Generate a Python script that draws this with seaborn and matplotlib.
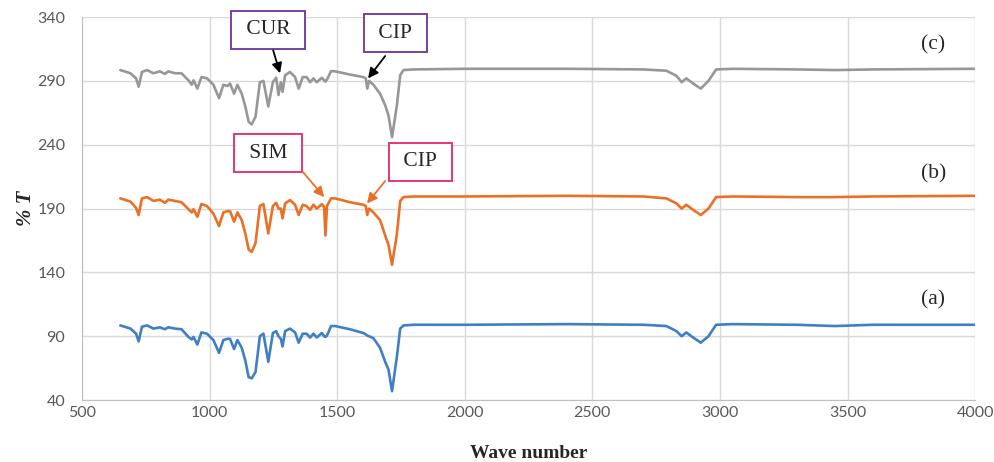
import pandas as pd
import matplotlib
matplotlib.use("Agg")
import matplotlib.pyplot as plt
import seaborn as sns

# wave numbers shared by the three spectra
wave = [650, 690, 712, 722, 735, 755, 780, 805, 825, 838, 865, 890, 917, 930, 937,
        952, 968, 990, 1015, 1037, 1054, 1070, 1080, 1096, 1109, 1126, 1140, 1153,
        1165, 1180, 1197, 1211, 1230, 1248, 1261, 1270, 1279, 1286, 1296, 1315,
        1335, 1349, 1365, 1380, 1394, 1407, 1420, 1440, 1449, 1454, 1460, 1476,
        1492, 1550, 1603, 1612, 1618, 1625, 1642, 1668, 1688, 1701, 1715, 1734,
        1747, 1760, 1800, 2000, 2400, 2700, 2790, 2830, 2850, 2868, 2895, 2925,
        2955, 2985, 3050, 3300, 3450, 3600, 4000]

# (a)
spec_a = [98.5, 96, 92, 86, 97.5, 98.5, 96, 97, 95.5, 97, 96, 95.5, 89.5, 87.5, 89.5,
          83.5, 93, 92, 87, 77, 87, 88, 88, 80, 87, 81, 71, 58,
          57, 62, 90, 92, 70, 92.5, 94, 90, 88, 82, 94, 96,
          93, 85, 92, 92, 89, 92, 89, 92.5, 90, 89.5, 90.5, 98,
          98, 95.5, 92.5, 91.5, 90.5, 90, 88.5, 81, 70, 64, 47, 74,
          96, 98.5, 99, 99, 99.5, 99, 98, 94, 90, 93, 89, 85,
          90, 99, 99.5, 99, 98, 99, 99]

# (b)
spec_b = [198, 195.5, 190.5, 185, 198, 199, 196, 197, 194.5, 197, 196, 195, 189.5, 187, 189.5,
          183.6, 193.6, 192, 186, 176.3, 187, 188, 188, 179.7, 187, 181, 170.6, 158,
          156, 163, 192, 193.6, 170.6, 192, 194.5, 190, 190, 182.3, 194, 196.7,
          193, 185, 193, 192, 189, 193, 190, 193.5, 191, 169, 192, 198,
          198, 195, 193, 192, 185, 190, 187, 181, 169, 161.5, 146, 170,
          196, 199, 199.5, 199.5, 200, 199.5, 198, 194, 190, 193, 189, 185,
          190, 199, 199.5, 199, 199, 199.5, 200]

# (c)
spec_c = [298.5, 296, 292, 285.5, 297, 298.5, 296, 297.5, 295.5, 297.5, 296, 296, 290.5, 287, 290.5,
          284, 293, 292, 287, 276.5, 287, 286, 288, 280, 287, 280, 270, 258,
          256, 262, 289, 290, 270, 289, 292.5, 279, 289, 281.5, 294.5, 297,
          293, 284, 293, 293, 289, 292, 289, 292.5, 290.5, 289.5, 291, 297.7,
          297.5, 295, 293, 292, 284, 290, 287, 280, 271, 263, 246, 271,
          294.5, 298.5, 299, 299.5, 299.5, 299, 298, 294, 289, 292, 288, 284,
          290, 299, 299.5, 299, 298.5, 299, 299.5]

series_names = ["a", "b", "c"]
series_colors = ["#3F7FC6", "#EB7026", "#979797"]

df = pd.DataFrame({"wave": wave, "a": spec_a, "b": spec_b, "c": spec_c})
long_df = df.melt(id_vars="wave", var_name="sample", value_name="T")

sns.set_style("whitegrid", {"grid.color": "#d9d9d9", "axes.edgecolor": "#bfbfbf"})
plt.rcParams["font.family"] = ["Lato", "DejaVu Sans"]

fig = plt.figure(figsize=(9.94, 4.62), dpi=100)
ax = fig.add_axes([0.0825, 0.134, 0.8985, 0.829])

sns.lineplot(data=long_df, x="wave", y="T", hue="sample", hue_order=series_names,
             palette=series_colors, sort=False, legend=False, linewidth=1.9, ax=ax)
for line in ax.get_lines():
    line.set_solid_joinstyle("round")

ax.set_xlim(500, 4000)
ax.set_ylim(40, 340)
ax.set_xticks(range(500, 4001, 500))
ax.set_yticks(range(40, 341, 50))
ax.tick_params(labelsize=11.5, labelcolor="#595959", length=0)
ax.tick_params(axis="y", pad=12)
ax.tick_params(axis="x", pad=4)
ax.grid(True, linewidth=1.0)
ax.spines["top"].set_visible(False)
ax.spines["right"].set_visible(False)

ax.set_xlabel("Wave number", fontfamily="Liberation Serif", fontweight="bold",
              fontsize=14, labelpad=18)
ax.set_ylabel("% T", fontfamily="Liberation Serif", fontweight="bold", style="italic",
              fontsize=15, labelpad=1)

# sample labels
for txt, yv in [("(c)", 318), ("(b)", 217), ("(a)", 118.5)]:
    ax.text(3836, yv, txt, fontfamily="Liberation Serif", fontsize=15.5,
            ha="center", va="center")

# boxed annotations
def box_label(x, y, txt, edge):
    ax.text(x, y, " " + txt + " ", fontfamily="Liberation Serif", fontsize=15.5,
            ha="center", va="center", zorder=5,
            bbox=dict(boxstyle="square,pad=0.45", fc="white", ec=edge, lw=1.3))

def arrow(start, tip, color):
    ax.annotate("", xy=tip, xytext=start, zorder=5,
                arrowprops=dict(arrowstyle="-|>,head_length=0.6,head_width=0.3",
                                color=color, lw=1.3, shrinkA=0, shrinkB=0))

purple = "#7030A0"
pink = "#E0286E"
box_label(1229, 330, "CUR", purple)
box_label(1727, 327.5, "CIP", purple)
box_label(1229, 233.5, "SIM", pink)
box_label(1825, 226.5, "CIP", pink)

arrow((1249, 314), (1276, 296), "black")
arrow((1688, 309.5), (1621, 292), "black")
arrow((1366, 218.6), (1449, 199), "#EB7026")
arrow((1688, 211.6), (1617, 194), "#EB7026")

fig.savefig("out.png", dpi=100)
